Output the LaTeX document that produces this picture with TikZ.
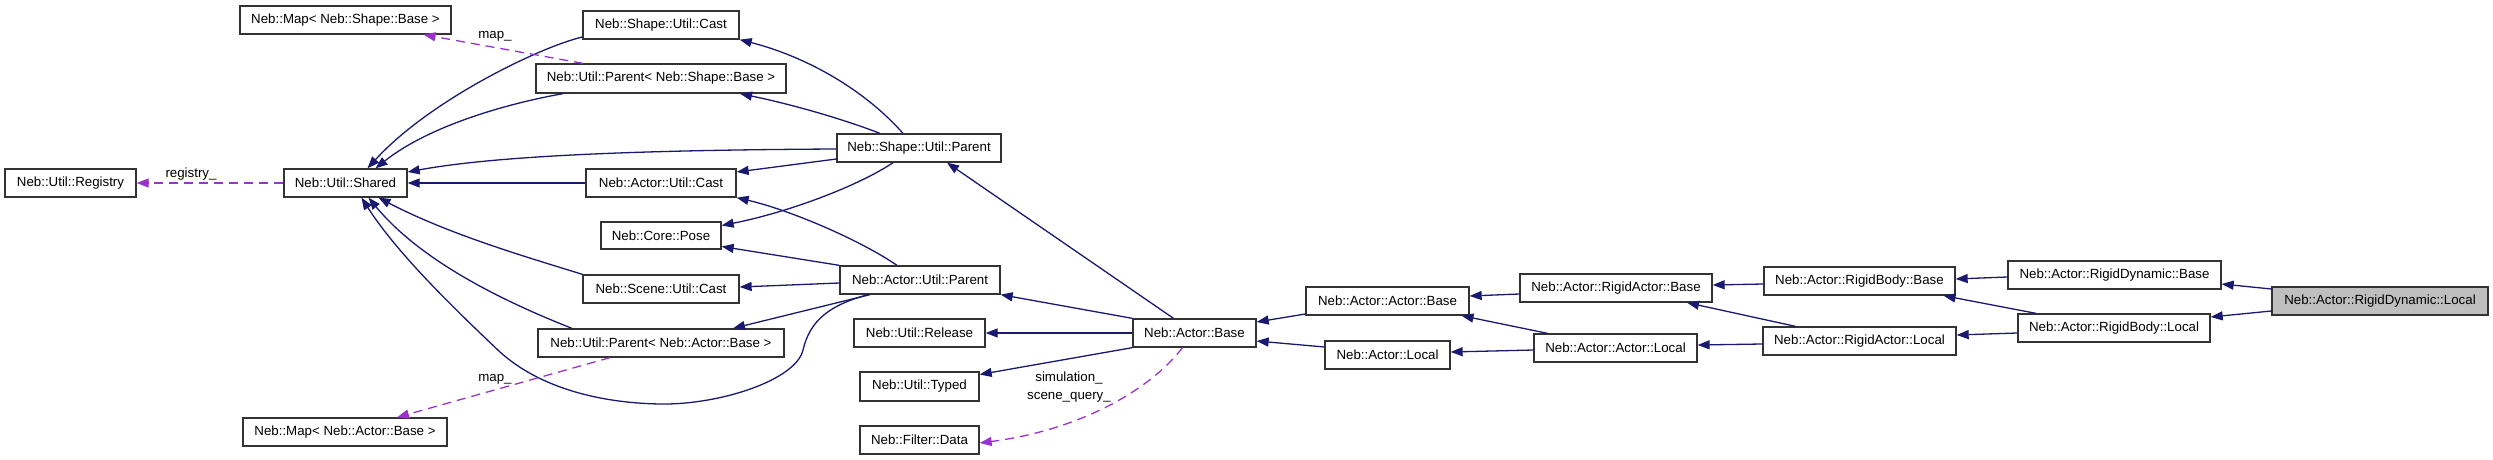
\documentclass[tikz,border=0pt]{standalone}
\usepackage{fontspec}
\setmainfont{Liberation Sans}
\usetikzlibrary{arrows.meta}
\definecolor{edgeblue}{HTML}{191970}
\definecolor{usepurple}{HTML}{9A32CD}
\definecolor{hlgray}{HTML}{BFBFBF}
\begin{document}
\begin{tikzpicture}[x=1pt,y=-1pt,
  cls/.style={draw=black!80, line width=1.3pt, fill=white, inner sep=0pt,
    minimum height=28pt, font=\fontsize{13.3}{16}\selectfont},
  inh/.style={draw=edgeblue, line width=1.3pt, -{Triangle[length=12pt,width=9pt]}},
  use/.style={draw=usepurple, line width=1.3pt, dash pattern=on 9pt off 6pt,
    -{Triangle[length=12pt,width=9pt]}},
  lbl/.style={font=\fontsize{13.3}{18}\selectfont, inner sep=0pt, align=center}
]
\useasboundingbox (0,0) rectangle (2493,460);

% nodes
\node[cls, minimum width=131pt] (reg) at (70.5,183) {Neb::Util::Registry};
\node[cls, minimum width=123pt] (shared) at (345.5,183) {Neb::Util::Shared};
\node[cls, minimum width=211pt] (mapS) at (345.5,20) {Neb::Map< Neb::Shape::Base >};
\node[cls, minimum width=204pt] (mapA) at (345,432) {Neb::Map< Neb::Actor::Base >};
\node[cls, minimum width=156pt] (sucast) at (661,25) {Neb::Shape::Util::Cast};
\node[cls, minimum width=250pt, minimum height=29pt] (upS) at (661,78.5) {Neb::Util::Parent< Neb::Shape::Base >};
\node[cls, minimum width=164pt] (sup) at (919,148) {Neb::Shape::Util::Parent};
\node[cls, minimum width=150pt] (aucast) at (661,183) {Neb::Actor::Util::Cast};
\node[cls, minimum width=120pt, minimum height=27pt] (pose) at (661,235.5) {Neb::Core::Pose};
\node[cls, minimum width=156pt] (scast) at (661,289) {Neb::Scene::Util::Cast};
\node[cls, minimum width=246pt] (upA) at (661,343) {Neb::Util::Parent< Neb::Actor::Base >};
\node[cls, minimum width=160pt] (aup) at (920,280) {Neb::Actor::Util::Parent};
\node[cls, minimum width=131pt] (release) at (919.5,333) {Neb::Util::Release};
\node[cls, minimum width=119pt, minimum height=29pt] (typed) at (919.5,386.5) {Neb::Util::Typed};
\node[cls, minimum width=119pt] (fdata) at (919.5,440) {Neb::Filter::Data};
\node[cls, minimum width=123pt] (abase) at (1194.5,333) {Neb::Actor::Base};
\node[cls, minimum width=163pt] (aabase) at (1387.5,301) {Neb::Actor::Actor::Base};
\node[cls, minimum width=125pt] (alocal) at (1387.5,355) {Neb::Actor::Local};
\node[cls, minimum width=192pt] (rabase) at (1616,288) {Neb::Actor::RigidActor::Base};
\node[cls, minimum width=163pt] (aalocal) at (1615.5,348) {Neb::Actor::Actor::Local};
\node[cls, minimum width=191pt] (rbbase) at (1859.5,281) {Neb::Actor::RigidBody::Base};
\node[cls, minimum width=193pt] (ralocal) at (1859.5,341) {Neb::Actor::RigidActor::Local};
\node[cls, minimum width=213pt] (rdbase) at (2114.5,275) {Neb::Actor::RigidDynamic::Base};
\node[cls, minimum width=192pt] (rblocal) at (2114,328) {Neb::Actor::RigidBody::Local};
\node[cls, minimum width=216pt, fill=hlgray] (rdlocal) at (2380,301) {Neb::Actor::RigidDynamic::Local};

% inheritance edges (right part)
\draw[inh] ([yshift=12pt]rdlocal.west) -- ([yshift=-9pt]rdbase.east);
\draw[inh] ([yshift=-10pt]rdlocal.west) -- ([yshift=11pt]rblocal.east);
\draw[inh] ([yshift=-2pt]rdbase.west) -- ([yshift=2pt]rbbase.east);
\draw[inh] ([xshift=-78pt]rblocal.north) -- ([xshift=84pt]rbbase.south);
\draw[inh] ([yshift=-5pt]rblocal.west) -- ([yshift=6pt]ralocal.east);
\draw[inh] ([xshift=-64pt]ralocal.north) -- ([xshift=71pt]rabase.south);
\draw[inh] ([yshift=-3pt]ralocal.west) -- ([yshift=3pt]aalocal.east);
\draw[inh] ([yshift=-3pt]rbbase.west) -- ([yshift=3pt]rabase.east);
\draw[inh] ([yshift=-6pt]rabase.west) -- ([yshift=5pt]aabase.east);
\draw[inh] ([xshift=-68pt]aalocal.north) -- ([xshift=74pt]aabase.south);
\draw[inh] ([yshift=-2pt]aalocal.west) -- ([yshift=3pt]alocal.east);
\draw[inh] ([yshift=-13pt]aabase.west) -- ([yshift=11pt]abase.east);
\draw[inh] ([yshift=8pt]alocal.west) -- ([yshift=-8pt]abase.east);

% Actor::Base
\draw[inh] (abase.north west) -- (aup.south east);
\draw[inh] ([xshift=-21pt]abase.north) -- ([xshift=28pt]sup.south);
\draw[inh] (abase.west) -- (release.east);
\draw[inh] (abase.south west) -- ([yshift=12pt]typed.east);

% Actor::Util::Parent
\draw[inh] (aup.north west) -- ([yshift=-11pt]pose.east);
\draw[inh] ([yshift=-3pt]aup.west) -- ([yshift=2pt]scast.east);
\draw[inh] ([xshift=-50pt]aup.south) -- ([xshift=72pt]upA.north);
\draw[inh] ([xshift=-23pt]aup.north) .. controls (860,240) and (790,210) .. (aucast.south east);
\draw[inh] ([xshift=-52pt]aup.south) .. controls (830,305) and (810,320) .. (803,350)
  .. controls (796,380) and (720,405) .. (660,404)
  .. controls (600,403) and (540,388) .. (500,352)
  .. controls (445,300) and (395,250) .. ([xshift=16pt]shared.south);

% Shape::Util::Parent
\draw[inh] ([xshift=-16pt]sup.north) .. controls (860,85) and (800,55) .. (sucast.south east);
\draw[inh] ([xshift=-39pt]sup.north) .. controls (840,118) and (790,104) .. ([xshift=79pt]upS.south);
\draw[inh] ([yshift=-11pt]sup.west) -- ([yshift=11pt]aucast.east);
\draw[inh] ([xshift=-26pt]sup.south) .. controls (860,185) and (790,212) .. ([yshift=10pt]pose.east);
\draw[inh] ([yshift=-1pt]sup.west) .. controls (650,150) and (500,155) .. ([yshift=11pt]shared.east);

% into Shared
\draw[inh] ([xshift=-89pt]upA.north) .. controls (500,300) and (420,260) .. ([xshift=23pt]shared.south);
\draw[inh] (scast.north west) .. controls (530,258) and (450,235) .. ([xshift=33pt]shared.south);
\draw[inh] (aucast.west) -- (shared.east);
\draw[inh] ([xshift=-98pt]upS.south) .. controls (510,103) and (430,125) .. ([xshift=30pt]shared.north);
\draw[inh] ([yshift=-12pt]sucast.west) .. controls (540,47) and (430,100) .. ([xshift=22pt]shared.north);

% usage (dashed)
\draw[use] (shared.west) -- (reg.east);
\node[lbl] (lreg) at (191,174) {registry\_};
\draw[use] ([xshift=-78pt]upS.north) -- ([xshift=78pt]mapS.south);
\node[lbl] (lmapS) at (495,36) {map\_};
\draw[use] ([xshift=-51pt]upA.south) -- ([xshift=52pt]mapA.north);
\node[lbl] (lmapA) at (495,379) {map\_};
\draw[use] ([xshift=-12pt]abase.south) .. controls (1150,390) and (1080,430) .. ([yshift=-3pt]fdata.east);
\node[lbl] (lsim) at (1069,387) {simulation\_\\scene\_query\_};
\end{tikzpicture}
\end{document}
